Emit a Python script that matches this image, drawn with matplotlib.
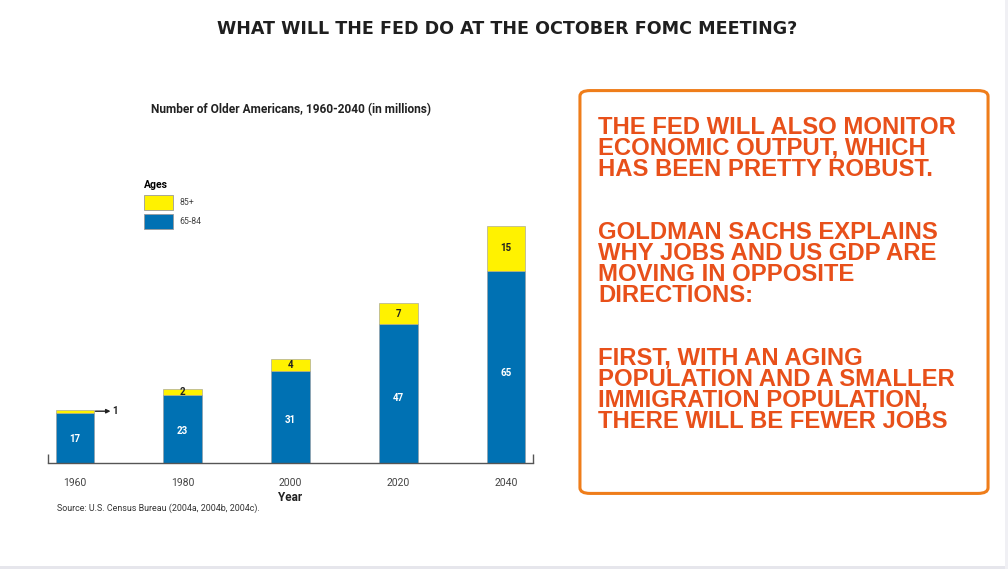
import matplotlib
matplotlib.use("Agg")
import matplotlib.pyplot as plt
from matplotlib.patches import Patch, FancyBboxPatch, Rectangle

# data (millions)
years = [1960, 1980, 2000, 2020, 2040]
age_65_84 = [17, 23, 31, 47, 65]
age_85_plus = [1, 2, 4, 7, 15]

blue = "#0071b3"
yellow = "#fff200"
orange_text = "#e8501a"
orange_box = "#ef7d1a"

slide_title = "WHAT WILL THE FED DO AT THE OCTOBER FOMC MEETING?"
para1 = "THE FED WILL ALSO MONITOR\nECONOMIC OUTPUT, WHICH\nHAS BEEN PRETTY ROBUST."
para2 = "GOLDMAN SACHS EXPLAINS\nWHY JOBS AND US GDP ARE\nMOVING IN OPPOSITE\nDIRECTIONS:"
para3 = "FIRST, WITH AN AGING\nPOPULATION AND A SMALLER\nIMMIGRATION POPULATION,\nTHERE WILL BE FEWER JOBS"

W, H = 1008, 569
fig = plt.figure(figsize=(W / 100, H / 100), dpi=100)
fig.patch.set_facecolor("white")

def fx(px):
    return px / W

def fy(py):
    return 1 - py / H

# faint slide edge at bottom / right
fig.patches.append(Rectangle((0, 0), 1, fy(566), transform=fig.transFigure,
                             facecolor="#e6e6ec", edgecolor="none"))
fig.patches.append(Rectangle((fx(1005), 0), 1 - fx(1005), 1, transform=fig.transFigure,
                             facecolor="#f0f0f4", edgecolor="none"))

# slide header
fig.text(fx(507), fy(29), slide_title, ha="center", va="center",
         fontsize=12.6, fontweight="heavy", color="#1f1f1f", family="DejaVu Sans")

chart_font = ["Roboto", "DejaVu Sans"]

# chart axes
ax = fig.add_axes([fx(48), fy(463), fx(533) - fx(48), 296 / H])
bw = 7.2
ax.bar(years, age_65_84, width=bw, color=blue, edgecolor="#9a9a9a", linewidth=0.4)
ax.bar(years, age_85_plus, width=bw, bottom=age_65_84, color=yellow,
       edgecolor="#9a9a9a", linewidth=0.4)
ax.set_xlim(1955, 2045)
ax.set_ylim(0, 100)

for x, lo, hi in zip(years, age_65_84, age_85_plus):
    ax.text(x, lo * 0.47, str(lo), ha="center", va="center", color="white",
            fontsize=7, fontweight="bold", family=chart_font)
    if hi >= 2:
        ax.text(x, lo + hi / 2, str(hi), ha="center", va="center", color="#222222",
                fontsize=7, fontweight="bold", family=chart_font)
    else:
        ax.annotate("", xy=(x + bw / 2 + 3.0, lo + hi / 2),
                    xytext=(x + bw / 2 + 0.2, lo + hi / 2),
                    arrowprops=dict(arrowstyle="-|>", color="#222222", lw=1.0,
                                    mutation_scale=6, shrinkA=0, shrinkB=0))
        ax.text(x + bw / 2 + 3.4, lo + hi / 2, str(hi), ha="left", va="center",
                fontsize=7, fontweight="bold", color="#222222", family=chart_font)

for s in ["top", "left", "right"]:
    ax.spines[s].set_visible(False)
ax.spines["bottom"].set_color("#555555")
ax.spines["bottom"].set_linewidth(1.0)
ax.vlines([1955, 2045], 0, 3, color="#555555", lw=1.0, clip_on=False)
ax.set_yticks([])
ax.set_xticks(years)
ax.set_xticklabels([str(y) for y in years], fontsize=7.5, color="#444444",
                   family=chart_font)
ax.tick_params(axis="x", length=0, pad=11)
ax.set_xlabel("Year", fontsize=8.5, fontweight="bold", color="#222222", labelpad=2,
              family=chart_font)

fig.text(fx(291), fy(110), "Number of Older Americans, 1960-2040 (in millions)",
         ha="center", va="center", fontsize=8.6, fontweight="bold", color="#222222",
         family=chart_font)
fig.text(fx(57), fy(508), "Source: U.S. Census Bureau (2004a, 2004b, 2004c).",
         ha="left", va="center", fontsize=6.4, color="#333333", family=chart_font)

handles = [Patch(facecolor=yellow, edgecolor="#9a9a9a", lw=0.6, label="85+"),
           Patch(facecolor=blue, edgecolor="#9a9a9a", lw=0.6, label="65-84")]
leg = ax.legend(handles=handles, loc="upper left", bbox_to_anchor=(fx(140), fy(177)),
                bbox_transform=fig.transFigure, frameon=False, title="Ages",
                alignment="left", prop={"family": chart_font, "size": 6.3},
                handlelength=3.4, handleheight=2.2,
                labelspacing=0.5, handletextpad=0.7, borderaxespad=0)
leg.get_title().set_fontweight("bold")
leg.get_title().set_fontsize(7.5)
leg.get_title().set_family(chart_font)
for t in leg.get_texts():
    t.set_color("#444444")

# right-hand text box
box = FancyBboxPatch((fx(586), fy(490)), fx(982) - fx(586), fy(94) - fy(490),
                     boxstyle="round,pad=0.006,rounding_size=0.01",
                     transform=fig.transFigure, facecolor="white",
                     edgecolor=orange_box, linewidth=2.2)
fig.patches.append(box)
for txt, top in [(para1, 116), (para2, 221), (para3, 347)]:
    fig.text(fx(598), fy(top), txt, ha="left", va="top", fontsize=17.2,
             fontweight="bold", color=orange_text, linespacing=0.88,
             family="Liberation Sans")

fig.savefig("out.png", dpi=100)
